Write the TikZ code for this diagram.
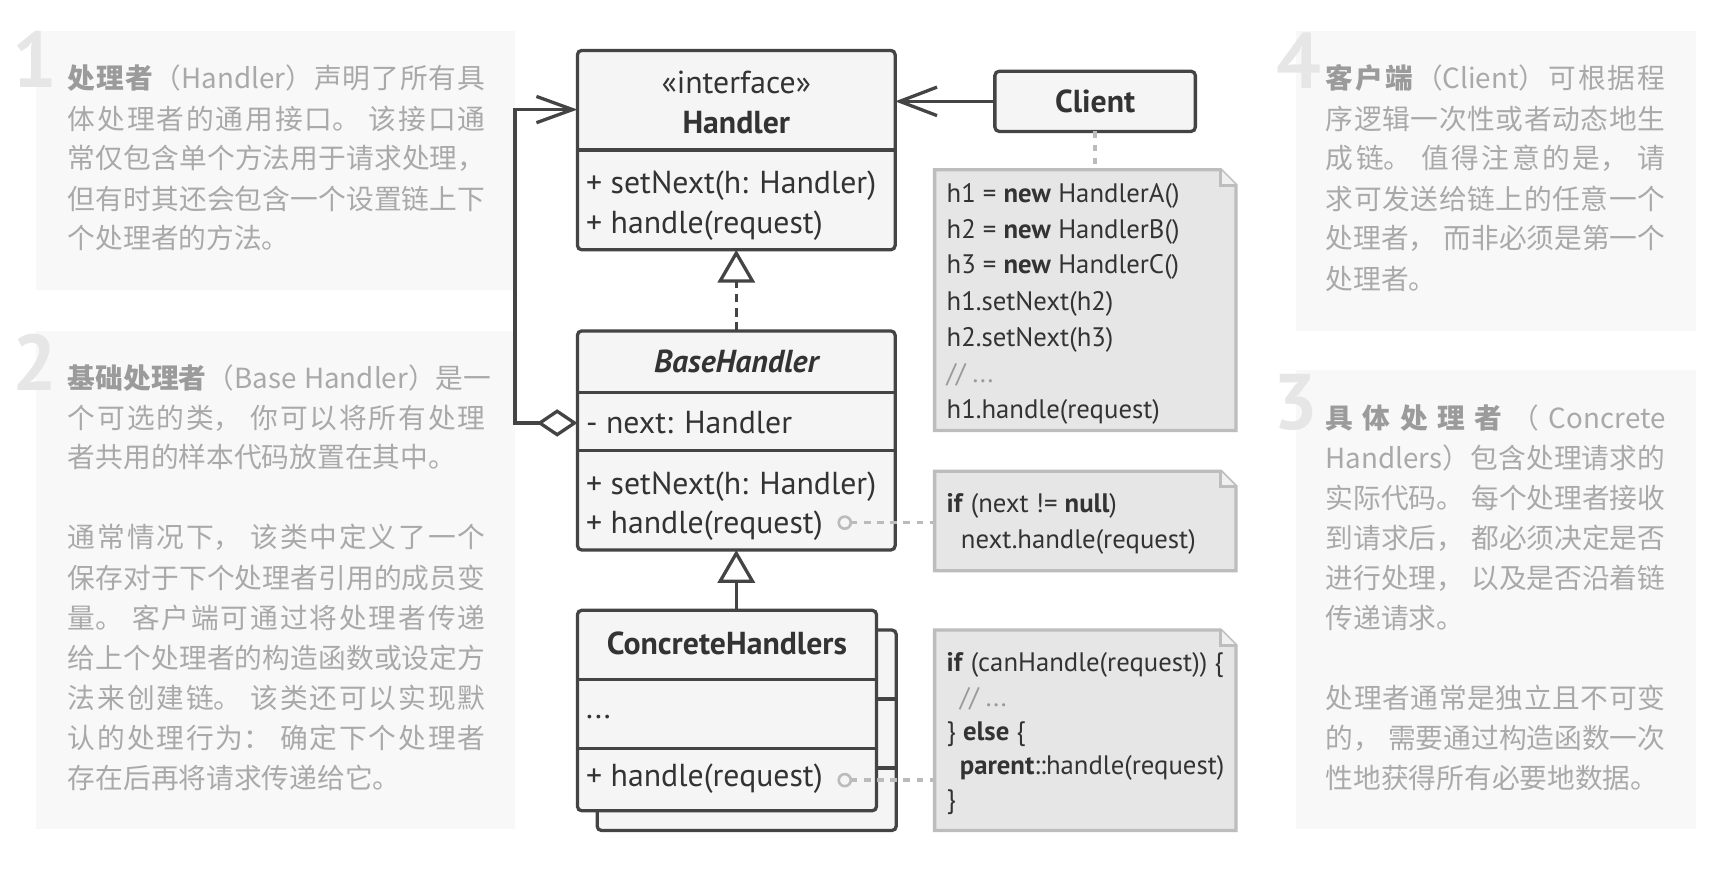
\documentclass[tikz,border=0pt]{standalone}
\usepackage{fontspec}
\setmainfont{PT Sans}
\newfontfamily\cjk{Noto Sans CJK SC}
\usetikzlibrary{arrows.meta}
% inter-character glue for justified CJK lines
\XeTeXinterchartokenstate=1
\count255="4E00
\loop\ifnum\count255<"A000 \XeTeXcharclass\count255=11 \advance\count255 by 1 \repeat
\XeTeXcharclass"FF0C=12 \XeTeXcharclass"3002=12 \XeTeXcharclass"FF1A=12
\XeTeXcharclass"3001=12 \XeTeXcharclass"FF1B=12
\XeTeXcharclass"FF09=14
\XeTeXcharclass"FF08=13
\newcommand{\cjkglue}{\hskip 0pt plus 1fil\relax}
\newcommand{\cjkpunct}{\hskip 0.25em plus 1fil\relax}
\XeTeXinterchartoks 11 11 = {\cjkglue}
\XeTeXinterchartoks 11 0 = {\cjkglue}
\XeTeXinterchartoks 0 11 = {\cjkglue}
\XeTeXinterchartoks 12 11 = {\cjkpunct}
\XeTeXinterchartoks 12 0 = {\cjkpunct}
\XeTeXinterchartoks 14 11 = {\cjkglue}
\XeTeXinterchartoks 14 0 = {\cjkglue}
\XeTeXinterchartoks 11 13 = {\cjkglue}
\XeTeXinterchartoks 12 13 = {\cjkpunct}
\XeTeXinterchartoks 0 13 = {\cjkglue}
\definecolor{panelbg}{HTML}{F8F8F8}
\definecolor{ptxt}{HTML}{A9A9A9}
\definecolor{pbold}{HTML}{9B9B9B}
\definecolor{digitc}{HTML}{E6E6E6}
\definecolor{boxc}{HTML}{444444}
\definecolor{boxf}{HTML}{F5F5F5}
\definecolor{dtxt}{HTML}{333333}
\definecolor{notef}{HTML}{E6E6E6}
\definecolor{notec}{HTML}{BDBDBD}
\definecolor{foldf}{HTML}{F0F0F0}
\definecolor{dashc}{HTML}{BBBBBB}
\definecolor{cmt}{HTML}{9A9A9A}
\newcommand{\hb}[1]{{\bfseries\color{pbold}#1}\hfil}
\newcommand{\pjl}[1]{\makebox[190.5pt][s]{#1}}
\newcommand{\pjr}[1]{\makebox[155pt][s]{#1}}
\newcommand{\kw}[1]{\textbf{#1}}
\newcommand{\cm}[1]{{\color{cmt}#1}}
\newcommand{\notepath}[1]{%
  \draw[notest] (#1.north west) -- ([xshift=-7pt]#1.north east) -- ([yshift=-7pt]#1.north east) -- (#1.south east) -- (#1.south west) -- cycle;
  \draw[foldst] ([xshift=-7pt]#1.north east) -- ([xshift=-7pt,yshift=-7pt]#1.north east) -- ([yshift=-7pt]#1.north east);}
\begin{document}
\begin{tikzpicture}[x=0.5pt, y=-0.5pt,
  every node/.style={inner sep=0pt, outer sep=0pt},
  panel/.style={fill=panelbg},
  ptext/.style={font=\cjk\fontsize{12.65}{15}\selectfont, text=ptxt, anchor=base west},
  digit/.style={font=\bfseries\fontsize{36}{40}\selectfont, text=digitc, anchor=base east},
  umlbox/.style={draw=boxc, fill=boxf, line width=1.5pt, rounded corners=2pt, anchor=north west},
  divl/.style={draw=boxc, line width=1.5pt},
  dtext/.style={font=\fontsize{14.5}{16}\selectfont, text=dtxt},
  dbold/.style={font=\bfseries\fontsize{14.5}{16}\selectfont, text=dtxt},
  ntext/.style={font=\fontsize{12.2}{14}\selectfont, text=dtxt, anchor=base west},
  notebox/.style={anchor=north west, minimum width=137.5pt},
  notest/.style={draw=notec, fill=notef, line width=1.5pt, line join=miter},
  foldst/.style={draw=notec, fill=foldf, line width=1.5pt, line join=miter},
  conn/.style={draw=boxc, line width=1.5pt},
  dconn/.style={draw=boxc, line width=1.5pt, dash pattern=on 4pt off 2.5pt},
  dashl/.style={draw=dashc, line width=1.5pt, dash pattern=on 3pt off 3pt},
  pin/.style={circle, draw=dashc, fill=boxf, line width=1.2pt, minimum size=5.5pt}
]
\useasboundingbox (0,0) rectangle (1568,798);
\fill[white] (0,0) rectangle (1568,798);

% panels
\fill[panel] (33,28) rectangle (470,265);
\fill[panel] (33,302) rectangle (470,757);
\fill[panel] (1183,28) rectangle (1548,302);
\fill[panel] (1183,338) rectangle (1548,757);

\node[digit] (d1) at (52,80) {1};
\node[digit] (d2) at (52,356) {2};
\node[digit] (d4) at (1206,81) {4};
\node[digit] (d3) at (1203,392) {3};

% panel 1
\node[ptext] (p1a) at (62,81) {\pjl{\hb{处理者}（Handler）声明了所有具}};
\node[ptext] (p1b) at (62,118) {\pjl{体处理者的通用接口。该接口通}};
\node[ptext] (p1c) at (62,154) {\pjl{常仅包含单个方法用于请求处理，}};
\node[ptext] (p1d) at (62,191) {\pjl{但有时其还会包含一个设置链上下}};
\node[ptext] (p1e) at (62,227) {个处理者的方法。};

% panel 2
\node[ptext] (p2a) at (62,355) {\pjl{\hb{基础处理者}（Base\hspace{0.28em}Handler）是一}};
\node[ptext] (p2b) at (62,391) {\pjl{个可选的类，你可以将所有处理}};
\node[ptext] (p2c) at (62,427) {者共用的样本代码放置在其中。};
\node[ptext] (p2d) at (62,500) {\pjl{通常情况下，该类中定义了一个}};
\node[ptext] (p2e) at (62,537) {\pjl{保存对于下个处理者引用的成员变}};
\node[ptext] (p2f) at (62,574) {\pjl{量。客户端可通过将处理者传递}};
\node[ptext] (p2g) at (62,610) {\pjl{给上个处理者的构造函数或设定方}};
\node[ptext] (p2h) at (62,647) {\pjl{法来创建链。该类还可以实现默}};
\node[ptext] (p2i) at (62,683) {\pjl{认的处理行为：确定下个处理者}};
\node[ptext] (p2j) at (62,720) {存在后再将请求传递给它。};

% panel 4
\node[ptext] (p4a) at (1210,81) {\pjr{\hb{客户端}（Client）可根据程}};
\node[ptext] (p4b) at (1210,118) {\pjr{序逻辑一次性或者动态地生}};
\node[ptext] (p4c) at (1210,154) {\pjr{成链。值得注意的是，请}};
\node[ptext] (p4d) at (1210,191) {\pjr{求可发送给链上的任意一个}};
\node[ptext] (p4e) at (1210,227) {\pjr{处理者，而非必须是第一个}};
\node[ptext] (p4f) at (1210,264) {处理者。};

% panel 3
\node[ptext] (p3a) at (1210,391) {\pjr{\hb{具\hfil 体\hfil 处\hfil 理\hfil 者}（\hfil Concrete}};
\node[ptext] (p3b) at (1210,428) {\pjr{Handlers）包含处理请求的}};
\node[ptext] (p3c) at (1210,464) {\pjr{实际代码。每个处理者接收}};
\node[ptext] (p3d) at (1210,501) {\pjr{到请求后，都必须决定是否}};
\node[ptext] (p3e) at (1210,537) {\pjr{进行处理，以及是否沿着链}};
\node[ptext] (p3f) at (1210,574) {传递请求。};
\node[ptext] (p3g) at (1210,647) {\pjr{处理者通常是独立且不可变}};
\node[ptext] (p3h) at (1210,683) {\pjr{的，需要通过构造函数一次}};
\node[ptext] (p3i) at (1210,720) {性地获得所有必要地数据。};

% Handler
\node[umlbox, minimum width=145pt, minimum height=91pt] (handler) at (527,46) {};
\draw[divl] ([yshift=-45.5pt]handler.north west) -- ([yshift=-45.5pt]handler.north east);
\node[dtext, anchor=base] (hst) at (672,85) {«interface»};
\node[dbold, anchor=base] (hname) at (672,122) {Handler};
\node[dtext, anchor=base west] (hm1) at (535,177) {+ setNext(h: Handler)};
\node[dtext, anchor=base west] (hm2) at (535,213) {+ handle(request)};

% Client
\node[umlbox, anchor=center, minimum width=91.5pt, minimum height=27.5pt, font=\bfseries\fontsize{14.5}{16}\selectfont, text=dtxt] (client) at (999.5,92.5) {Client};
\draw[conn, -{Straight Barb[length=17pt, width=13pt]}] (client.west) -- (client.west -| handler.east);

% BaseHandler
\node[umlbox, minimum width=145pt, minimum height=100pt] (base) at (527,302) {};
\draw[divl] ([yshift=-28pt]base.north west) -- ([yshift=-28pt]base.north east);
\draw[divl] ([yshift=-54.5pt]base.north west) -- ([yshift=-54.5pt]base.north east);
\node[dbold, anchor=base, font=\bfseries\itshape\fontsize{14.5}{16}\selectfont] (bname) at (672,340) {BaseHandler};
\node[dtext, anchor=base west] (bnext) at (535,396) {- next: Handler};
\node[dtext, anchor=base west] (bm1) at (535,451) {+ setNext(h: Handler)};
\node[dtext, anchor=base west] (bm2) at (535,487) {+ handle(request)};

\draw[dconn, -{Triangle[open, length=15pt, width=17pt]}] (base.north) -- (handler.south);
\draw[conn, {Diamond[fill=white, length=18.5pt, width=12.5pt]}-{Straight Barb[length=16.5pt, width=12pt]}]
  (bnext.west -| base.west) -- ++(-57,0) |- ([yshift=-27pt]handler.north west);

% ConcreteHandlers
\node[umlbox, minimum width=136.5pt, minimum height=91.5pt] (chback) at (545,575) {};
\draw[divl] ([yshift=-31.5pt]chback.north west) -- ([yshift=-31.5pt]chback.north east);
\draw[divl] ([yshift=-63pt]chback.north west) -- ([yshift=-63pt]chback.north east);
\node[umlbox, minimum width=136.5pt, minimum height=91.5pt] (chfront) at (527,557) {};
\draw[divl] ([yshift=-31.5pt]chfront.north west) -- ([yshift=-31.5pt]chfront.north east);
\draw[divl] ([yshift=-63pt]chfront.north west) -- ([yshift=-63pt]chfront.north east);
\node[dbold, anchor=base] (chname) at (663.5,597) {ConcreteHandlers};
\node[dtext, anchor=base west] (chdots) at (535,656) {...};
\node[dtext, anchor=base west] (chm) at (535,718) {+ handle(request)};
\draw[conn, -{Triangle[open, length=15pt, width=17pt]}] (base.south |- chfront.north) -- (base.south);

% Note 1
\node[notebox, minimum height=119pt] (note1) at (853,155) {};
\notepath{note1}
\node[ntext] (n1a) at (864,185) {h1 = \kw{new} HandlerA()};
\node[ntext] (n1b) at (864,218) {h2 = \kw{new} HandlerB()};
\node[ntext] (n1c) at (864,250) {h3 = \kw{new} HandlerC()};
\node[ntext] (n1d) at (864,283) {h1.setNext(h2)};
\node[ntext] (n1e) at (864,316) {h2.setNext(h3)};
\node[ntext] (n1f) at (864,349) {\cm{// ...}};
\node[ntext] (n1g) at (864,382) {h1.handle(request)};
\draw[dashl] (client.south) -- (client.south |- note1.north);

% Note 2
\node[notebox, minimum height=45.5pt] (note2) at (853,430) {};
\notepath{note2}
\node[ntext] (n2a) at (864,468) {\kw{if} (next != \kw{null})};
\node[ntext] (n2b) at (877,501) {next.handle(request)};
\node[pin] (c1) at (771,477) {};
\draw[dashl] (c1.east) -- (c1 -| note2.west);

% Note 3
\node[notebox, minimum height=91.5pt] (note3) at (853,575) {};
\notepath{note3}
\node[ntext] (n3a) at (864,613) {\kw{if} (canHandle(request)) \{};
\node[ntext] (n3b) at (876,645) {\cm{// ...}};
\node[ntext] (n3c) at (864,676) {\} \kw{else} \{};
\node[ntext] (n3d) at (876,707) {\kw{parent}::handle(request)};
\node[ntext] (n3e) at (864,738) {\}};
\node[pin] (c2) at (771,712) {};
\draw[dashl] (c2.east) -- (c2 -| note3.west);
\end{tikzpicture}
\end{document}
